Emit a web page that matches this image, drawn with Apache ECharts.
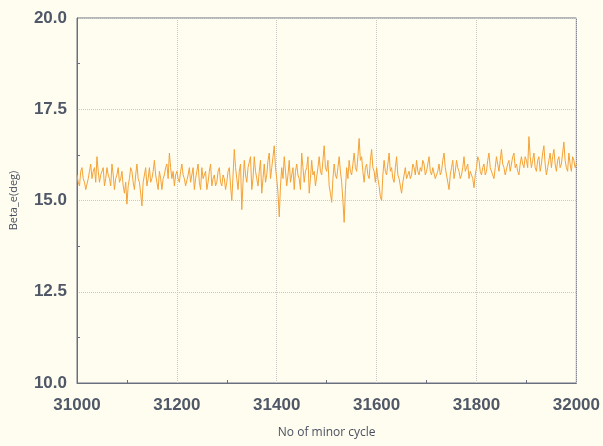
<!DOCTYPE html>
<html>
<head>
<meta charset="utf-8">
<script src="https://cdn.jsdelivr.net/npm/echarts@6/dist/echarts.min.js"></script>
<style>
html,body{margin:0;padding:0;background:#fffdef;}
#main{width:603px;height:446px;}
</style>
</head>
<body>
<div id="main"></div>
<script>
// minor cycle numbers, step 2.5 from 31000 to 32000
var cycleStart = 31000;
var cycleStep = 2.5;
// Beta_e (deg), 40 values per 100 cycles
var betaE = [
  15.7,15.5,15.4,15.8,15.9,15.6,15.5,15.3,15.3,15.6,15.8,16.0,15.6,15.8,15.9,15.5,16.2,15.8,15.5,15.7,
  15.7,15.9,15.4,15.6,15.9,15.7,15.6,15.4,16.0,15.7,15.3,15.6,15.7,15.9,15.5,15.6,15.8,15.4,15.2,15.5,
  14.9,15.4,15.6,15.9,15.8,15.5,15.3,15.7,16.0,15.6,15.5,15.2,14.85,15.5,15.7,15.9,15.4,15.6,15.9,15.5,
  15.6,15.8,16.1,15.7,15.5,15.3,15.8,15.6,15.3,15.6,15.7,15.9,16.0,15.6,16.3,15.9,15.6,15.8,15.4,15.7,
  15.8,15.6,15.5,15.8,16.0,15.7,15.6,15.4,15.4,15.7,15.9,15.5,15.7,15.9,15.3,15.6,15.8,16.0,15.5,15.3,
  15.9,15.6,15.6,15.8,15.3,15.5,15.8,16.0,15.4,15.6,15.7,15.4,15.5,15.8,15.9,15.5,15.4,15.7,15.6,15.3,
  15.5,15.8,15.9,15.4,15.0,15.7,16.4,15.9,15.6,15.3,15.8,16.0,14.75,15.5,16.1,15.7,15.5,15.9,15.9,16.2,
  15.3,15.6,16.2,15.8,15.6,15.4,15.8,16.1,15.2,15.6,16.0,15.5,15.7,16.1,16.3,15.6,15.9,16.2,16.5,15.9,
  15.6,15.2,14.55,15.4,15.9,15.6,16.2,15.8,15.4,15.7,16.1,15.5,15.7,15.9,15.3,15.8,16.0,15.7,15.6,15.3,
  16.3,15.9,15.5,15.8,15.9,16.2,15.2,15.6,16.1,15.7,15.8,15.4,15.4,15.9,16.2,15.8,15.7,16.1,16.5,15.9,
  15.8,16.1,15.4,15.2,14.95,15.6,16.0,15.7,15.6,15.9,16.2,15.8,15.5,15.0,14.4,15.3,15.9,15.6,16.1,15.8,
  15.7,16.0,16.3,15.9,15.8,16.2,16.7,16.1,16.2,15.8,15.5,15.9,16.0,15.7,15.6,16.1,16.4,15.9,15.8,15.5,
  15.9,15.6,15.4,15.1,15.0,15.7,16.1,15.8,15.7,16.0,16.3,15.8,15.9,15.6,15.5,15.9,16.2,15.7,15.6,15.4,
  15.2,15.5,15.7,15.9,15.6,15.7,15.8,15.6,15.7,16.0,15.9,15.7,16.1,15.8,15.7,15.9,15.8,16.1,16.0,15.7,
  15.8,16.0,16.2,15.8,15.7,15.9,15.9,15.6,15.6,15.8,16.0,15.7,15.8,16.1,16.3,15.9,15.7,15.5,15.3,15.7,
  15.9,16.1,15.6,15.8,16.1,15.9,15.8,15.6,15.7,15.9,16.2,15.8,15.9,16.0,15.6,15.8,15.8,15.6,15.35,15.7,
  15.9,16.2,16.1,15.8,15.7,15.9,16.0,15.7,15.8,16.1,16.3,15.9,15.9,15.7,15.6,15.9,16.2,16.0,15.8,16.1,
  16.4,16.0,15.9,15.7,15.7,16.0,16.1,15.8,15.8,16.2,16.3,15.9,16.0,15.8,15.7,16.0,16.2,16.0,15.9,16.2,
  16.1,15.9,16.75,16.2,15.9,16.1,16.3,15.9,15.8,16.1,16.2,15.8,16.0,16.3,16.5,16.0,15.7,15.9,16.1,16.3,
  15.9,16.2,16.4,16.0,15.8,16.1,16.2,15.9,16.0,16.3,16.6,16.1,15.9,15.8,16.3,16.0,15.8,16.2,16.1,15.9,
  16.0
];

var seriesData = betaE.map(function(v, i){ return [cycleStart + i * cycleStep, v]; });

var myChart = echarts.init(document.getElementById('main'));
var labelStyle = {color:'#505868', fontSize:17, fontWeight:'bold', fontFamily:'Liberation Sans, Arial, sans-serif'};
var option = {
    backgroundColor: '#fffdef',
    animation: false,
    grid: {
        left: 77, right: 25, top: 18, bottom: 63,
        show: true, borderColor: '#6a7080', borderWidth: 1
    },
    xAxis: {
        type: 'value',
        min: 31000, max: 32000, interval: 200,
        name: 'No of minor cycle',
        nameLocation: 'middle',
        nameGap: 44,
        nameTextStyle: {color:'#4a5060', fontSize:12, fontFamily:'Open Sans, sans-serif'},
        axisLine: {show: true, onZero: false, lineStyle: {color:'#6a7080'}},
        axisTick: {show: false},
        minorTick: {show: true, splitNumber: 2, length: -3, lineStyle: {color:'#6a7080'}},
        axisLabel: Object.assign({margin: 14, formatter: function(v){ return String(v); }}, labelStyle),
        splitLine: {show: true, lineStyle: {color:'#c8c8c8', type:'dotted'}}
    },
    yAxis: {
        type: 'value',
        min: 10, max: 20, interval: 2.5,
        name: 'Beta_e(deg)',
        nameLocation: 'middle',
        nameGap: 58,
        nameTextStyle: {color:'#4a5060', fontSize:11, fontFamily:'Open Sans, sans-serif'},
        axisLine: {show: true, lineStyle: {color:'#6a7080'}},
        axisTick: {show: false},
        minorTick: {show: true, splitNumber: 2, length: -3, lineStyle: {color:'#6a7080'}},
        axisLabel: Object.assign({margin: 10, formatter: function(v){ return v.toFixed(1); }}, labelStyle),
        splitLine: {show: true, lineStyle: {color:'#c8c8c8', type:'dotted'}}
    },
    series: [{
        type: 'line',
        data: seriesData,
        symbol: 'none',
        lineStyle: {color:'#f4a236', width:1}
    }]
};
myChart.setOption(option);
</script>
</body>
</html>
